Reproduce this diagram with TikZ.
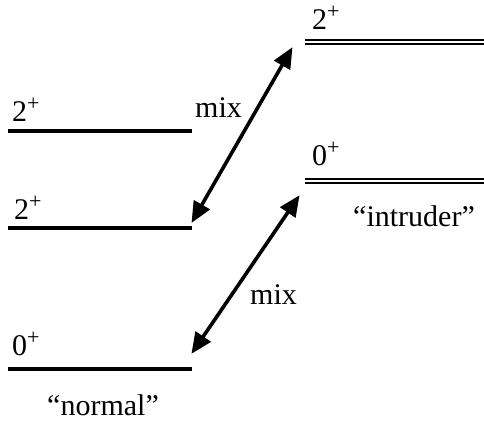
\documentclass[tikz,border=0pt]{standalone}
\usepackage{fontspec}
\setmainfont{Liberation Serif}
\usetikzlibrary{arrows.meta}
\begin{document}
\begin{tikzpicture}[x=1pt,y=-1pt,
  lvl/.style={line width=3.5pt},
  dlvl/.style={double, line width=2.1pt, double distance=1.8pt},
  lab/.style={inner sep=0pt, anchor=base west, font=\fontsize{30}{34}\selectfont},
  mixarrow/.style={line width=3.6pt, {Triangle[length=21pt,width=18pt]}-{Triangle[length=21pt,width=18pt]}, shorten <=-1pt, shorten >=-1pt}]
\newcommand{\plussup}{\raisebox{0.36em}{\fontsize{22}{24}\selectfont +}}
\useasboundingbox (0,0) rectangle (484,426);
% normal levels
\coordinate (n2aL) at (8,131);  \coordinate (n2aR) at (192,131);
\coordinate (n2bL) at (8,228);  \coordinate (n2bR) at (192,228);
\coordinate (n0L)  at (8,369);  \coordinate (n0R)  at (192,369);
\draw[lvl] (n2aL) -- (n2aR);
\draw[lvl] (n2bL) -- (n2bR);
\draw[lvl] (n0L) -- (n0R);
% intruder levels
\coordinate (i2L) at (305,42);  \coordinate (i2R) at (484,42);
\coordinate (i0L) at (305,181); \coordinate (i0R) at (484,181);
\draw[dlvl] (i2L) -- (i2R);
\draw[dlvl] (i0L) -- (i0R);
% labels
\node[lab] (l2a) at (12,121) {2\plussup};
\node[lab] (l2b) at (14,219) {2\plussup};
\node[lab] (l0)  at (12,355) {0\plussup};
\node[lab] (r2)  at (312,29) {2\plussup};
\node[lab] (r0)  at (312,165) {0\plussup};
\node[lab] (normal) at (47,415) {“normal”};
\node[lab] (intr) at (353,226) {“intruder”};
\node[lab] (mixa) at (195,117) {mix};
\node[lab] (mixb) at (250,304) {mix};
% mixing arrows
\coordinate (aA) at (192,222); \coordinate (aB) at (292,48);
\coordinate (bA) at (192,353); \coordinate (bB) at (299,196);
\draw[mixarrow] (aA) -- (aB);
\draw[mixarrow] (bA) -- (bB);
\end{tikzpicture}
\end{document}
